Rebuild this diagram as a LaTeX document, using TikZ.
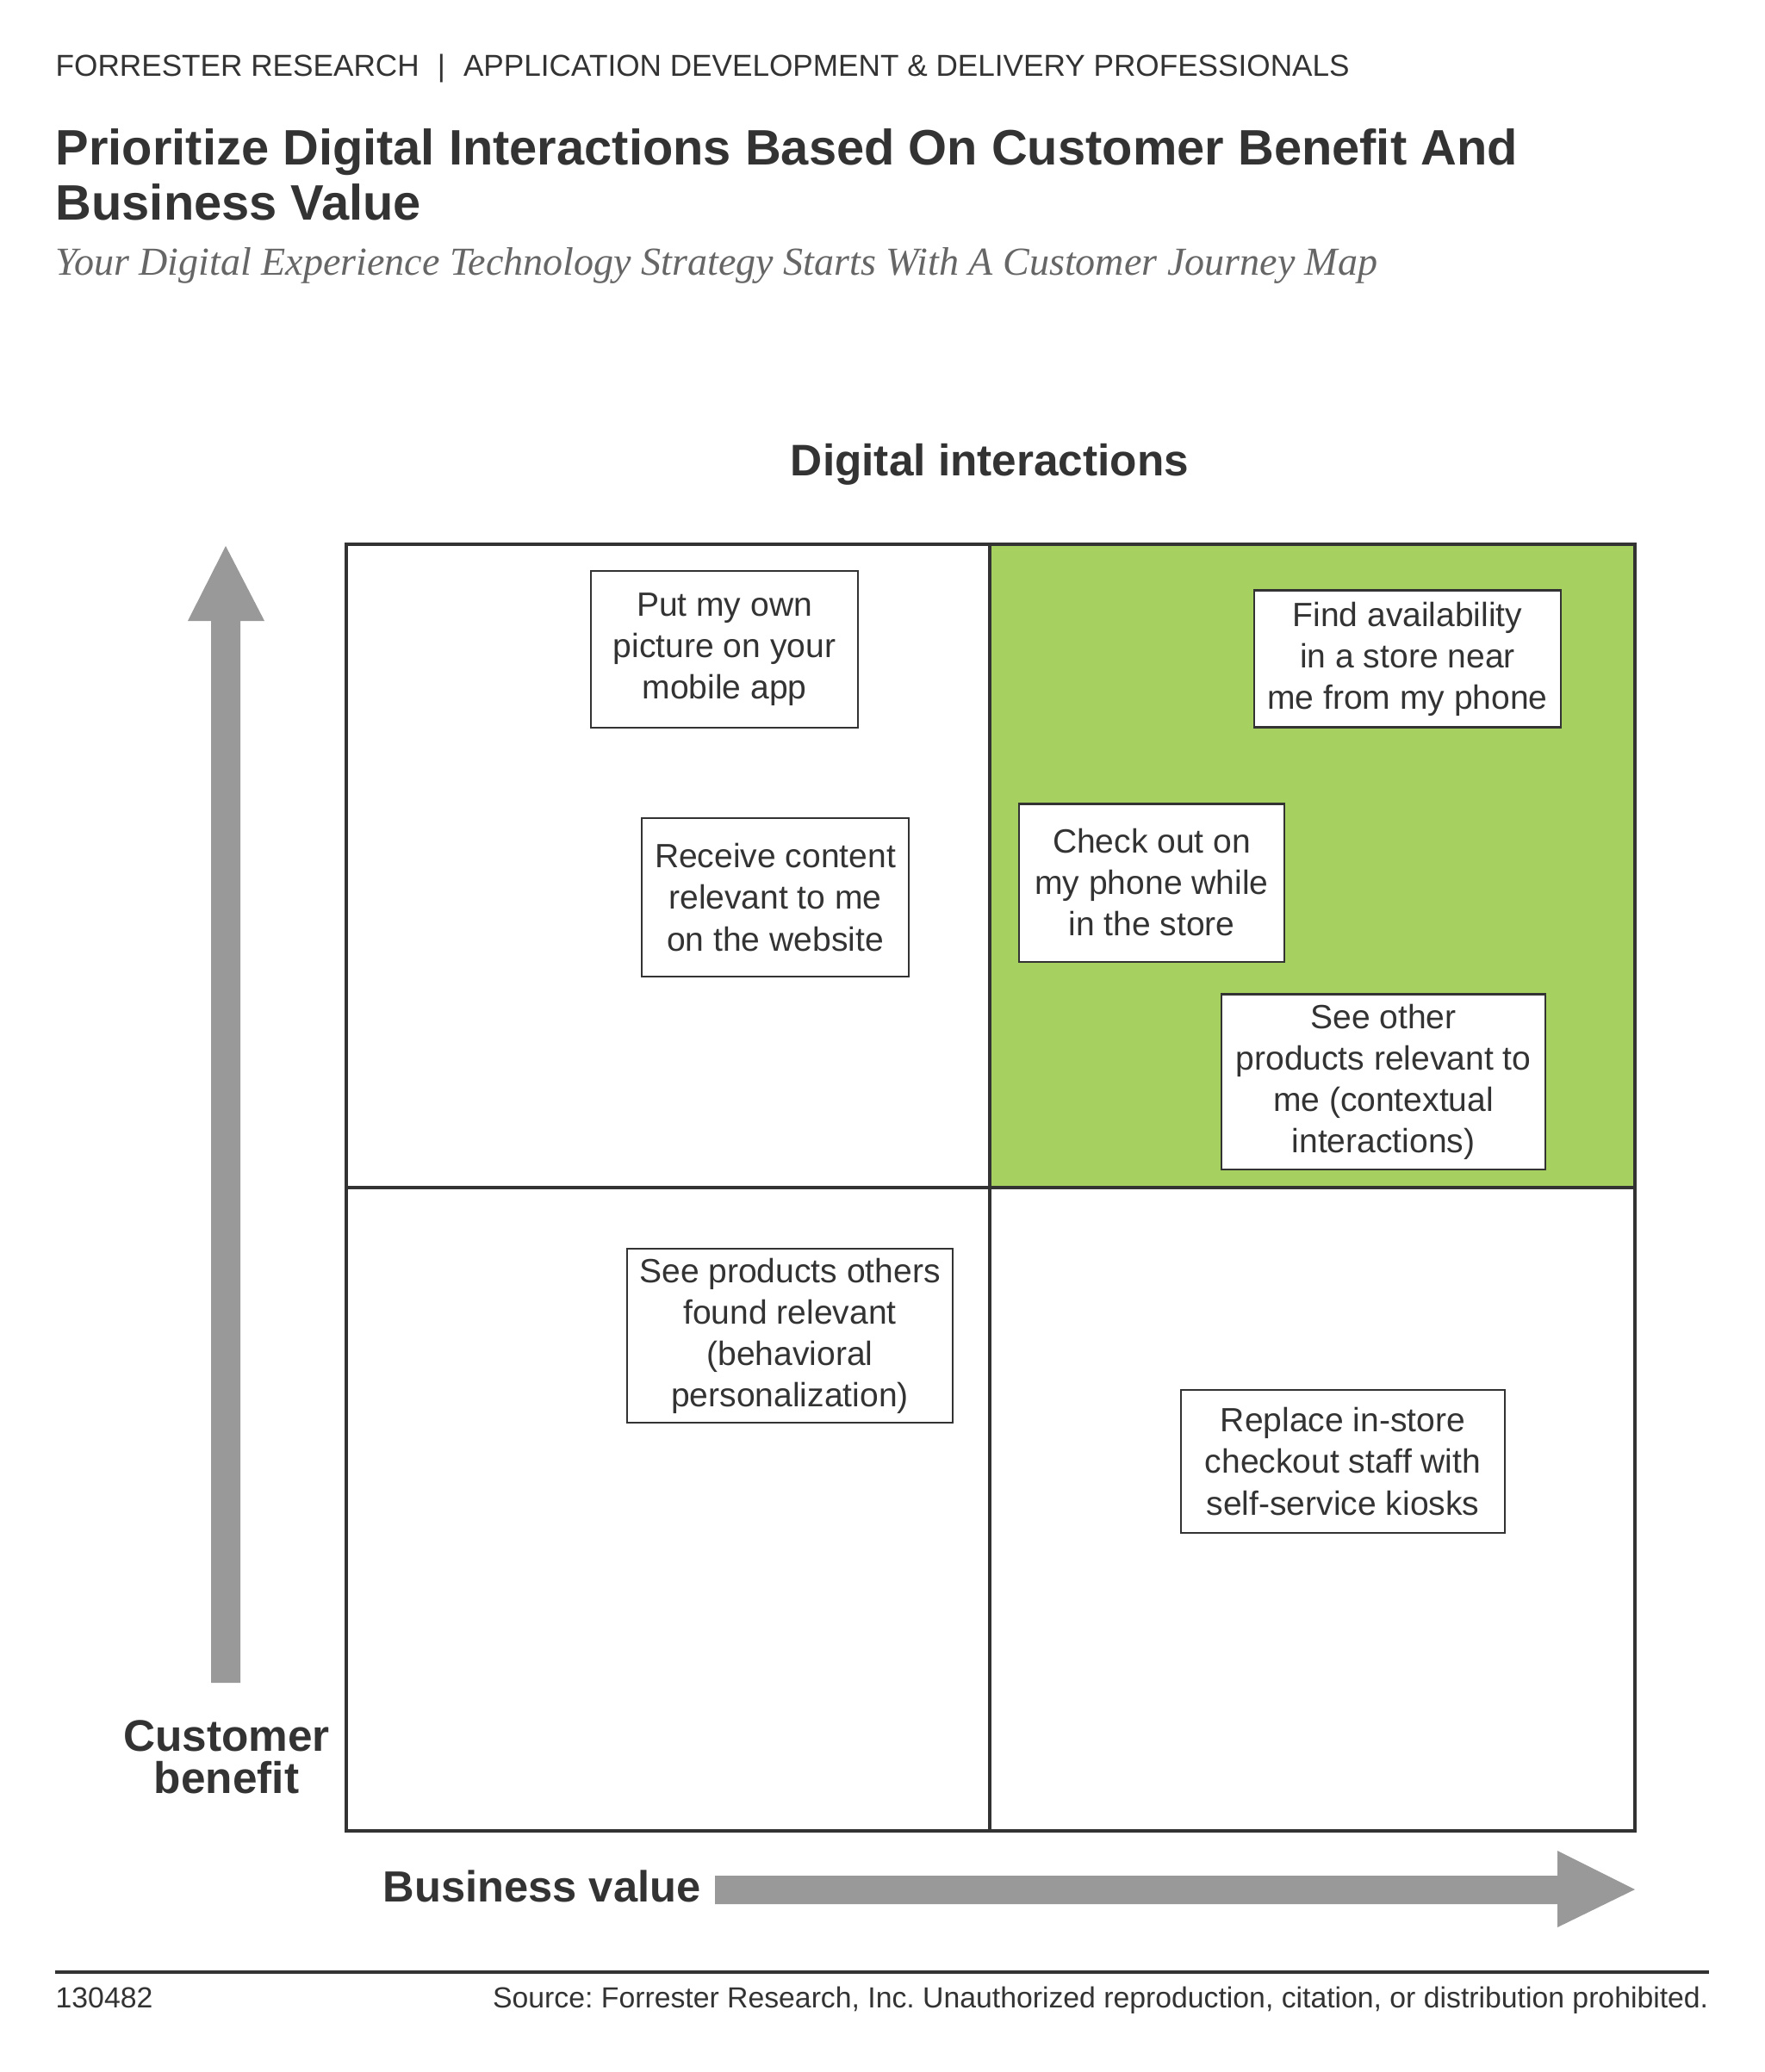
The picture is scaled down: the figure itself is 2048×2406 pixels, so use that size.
\documentclass[tikz,border=0pt]{standalone}
\usepackage{fontspec}
\setmainfont{Liberation Sans}
\newfontfamily\serifsub{Liberation Serif}
\frenchspacing
\definecolor{ink}{HTML}{333333}
\definecolor{qgreen}{HTML}{A6D160}
\definecolor{arrowgray}{HTML}{999999}
\definecolor{subgray}{HTML}{666666}
\tikzset{
  txt/.style={inner sep=0pt, text=ink},
  idea/.style={draw=ink, line width=0.6pt, fill=white, text=ink, align=center,
    inner sep=0pt, font=\fontsize{11.1}{13.66}\selectfont},
  axislbl/.style={txt, font=\bfseries\fontsize{14.6}{14}\selectfont},
  frame/.style={draw=ink, line width=1.4pt}
}
\begin{document}
\begin{tikzpicture}[x=0.01cm, y=-0.01cm]
  \useasboundingbox (0,0) rectangle (2048,2406);
  % header and titles
  \node[txt, anchor=base west, font=\fontsize{10.0}{12}\selectfont] (hdr) at (64,89)
    {FORRESTER RESEARCH\hspace{0.6em}|\hspace{0.6em}APPLICATION DEVELOPMENT \& DELIVERY PROFESSIONALS};
  \node[txt, anchor=base west, font=\bfseries\fontsize{16.45}{18}\selectfont] (title1) at (64,192)
    {Prioritize Digital Interactions Based On Customer Benefit And};
  \node[txt, anchor=base west, font=\bfseries\fontsize{16.45}{18}\selectfont] (title2) at (64,255)
    {Business Value};
  \node[txt, text=subgray, anchor=base west, font=\serifsub\itshape\fontsize{13.1}{15}\selectfont] (sub) at (64,320)
    {Your Digital Experience Technology Strategy Starts With A Customer Journey Map};
  % quadrants
  \fill[qgreen] (1149,632) rectangle (1898,1379);
  \draw[frame] (402,632) rectangle (1898,2126);
  \draw[frame] (1149,632) -- (1149,2126);
  \draw[frame] (402,1379) -- (1898,1379);
  \node[axislbl, anchor=base] (digi) at (1149,552) {Digital interactions};
  % axis arrows
  \fill[arrowgray] (245,1954) -- (245,721) -- (218,721) -- (262,634) -- (307,721)
    -- (279,721) -- (279,1954) -- cycle;
  \fill[arrowgray] (830,2178) -- (1808,2178) -- (1808,2149) -- (1898,2194) -- (1808,2238)
    -- (1808,2211) -- (830,2211) -- cycle;
  \node[axislbl, anchor=base] (cb1) at (263,2033) {Customer};
  \node[axislbl, anchor=base] (cb2) at (263,2082) {benefit};
  \node[axislbl, anchor=base west, font=\bfseries\fontsize{14.4}{14}\selectfont] (bv) at (444,2208) {Business value};
  % interactions
  \node[idea, minimum width=3.10cm, minimum height=1.82cm] (put) at (841,754)
    {Put my own\\picture on your\\mobile app};
  \node[idea, minimum width=3.09cm, minimum height=1.84cm] (recv) at (900,1042)
    {Receive content\\relevant to me\\on the website};
  \node[idea, minimum width=3.56cm, minimum height=1.59cm] (find) at (1634,765)
    {Find availability\\in a store near\\me from my phone};
  \node[idea, minimum width=3.08cm, minimum height=1.83cm] (check) at (1337,1025)
    {Check out on\\my phone while\\in the store};
  \node[idea, minimum width=3.75cm, minimum height=2.03cm] (other) at (1606,1256)
    {See other\\products relevant to\\me (contextual\\interactions)};
  \node[idea, minimum width=3.77cm, minimum height=2.02cm] (behav) at (917,1551)
    {See products others\\found relevant\\(behavioral\\personalization)};
  \node[idea, minimum width=3.76cm, minimum height=1.66cm] (kiosk) at (1559,1697)
    {Replace in-store\\checkout staff with\\self-service kiosks};
  % footer
  \draw[ink, line width=1.1pt] (64,2290) -- (1984,2290);
  \node[txt, anchor=base west, font=\fontsize{9.6}{11}\selectfont] (num) at (64,2331) {130482};
  \node[txt, anchor=base east, font=\fontsize{9.6}{11}\selectfont] (src) at (1984,2331)
    {Source: Forrester Research, Inc. Unauthorized reproduction, citation, or distribution prohibited.};
\end{tikzpicture}
\end{document}
